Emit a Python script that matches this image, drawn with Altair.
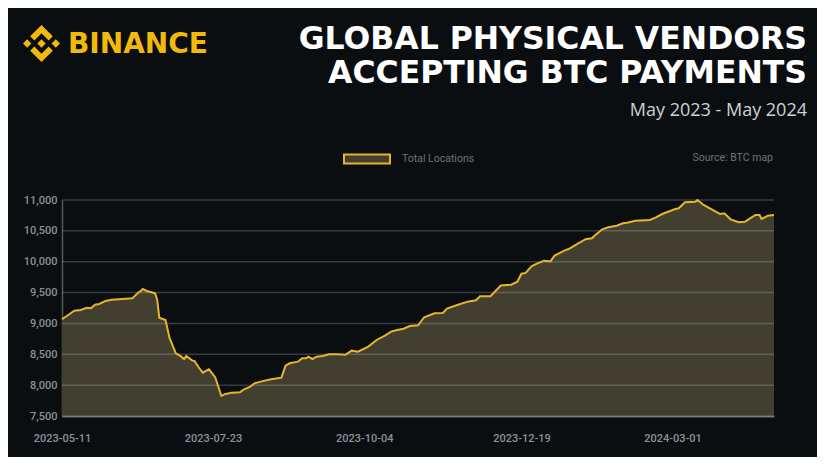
import altair as alt
import pandas as pd

# ---- data ----
dates = [
    "2023-05-11", "2023-05-17", "2023-05-20", "2023-05-23", "2023-05-25", "2023-05-27",
    "2023-05-29", "2023-06-01", "2023-06-04", "2023-06-14", "2023-06-17", "2023-06-18",
    "2023-06-19", "2023-06-21", "2023-06-25", "2023-06-26", "2023-06-27", "2023-06-30",
    "2023-07-02", "2023-07-05", "2023-07-07", "2023-07-09", "2023-07-10", "2023-07-13",
    "2023-07-14", "2023-07-16", "2023-07-18", "2023-07-21", "2023-07-24", "2023-07-27",
    "2023-07-29", "2023-08-01", "2023-08-05", "2023-08-07", "2023-08-10", "2023-08-12",
    "2023-08-15", "2023-08-20", "2023-08-25", "2023-08-27", "2023-08-29", "2023-09-02",
    "2023-09-04", "2023-09-06", "2023-09-07", "2023-09-09", "2023-09-11", "2023-09-14",
    "2023-09-17", "2023-09-21", "2023-09-25", "2023-09-28", "2023-10-01", "2023-10-06",
    "2023-10-10", "2023-10-14", "2023-10-17", "2023-10-20", "2023-10-23", "2023-10-26",
    "2023-10-30", "2023-11-02", "2023-11-07", "2023-11-11", "2023-11-13", "2023-11-18",
    "2023-11-23", "2023-11-27", "2023-11-29", "2023-12-04", "2023-12-09", "2023-12-14",
    "2023-12-17", "2023-12-19", "2023-12-21", "2023-12-24", "2023-12-27", "2023-12-30",
    "2024-01-02", "2024-01-04", "2024-01-09", "2024-01-11", "2024-01-15", "2024-01-19",
    "2024-01-22", "2024-01-24", "2024-01-27", "2024-01-30", "2024-02-03", "2024-02-06",
    "2024-02-08", "2024-02-12", "2024-02-19", "2024-02-22", "2024-02-25", "2024-03-02",
    "2024-03-04", "2024-03-07", "2024-03-12", "2024-03-13", "2024-03-16", "2024-03-21",
    "2024-03-24", "2024-03-26", "2024-03-29", "2024-04-02", "2024-04-05", "2024-04-10",
    "2024-04-12", "2024-04-13", "2024-04-16", "2024-04-19",
]
locations = [
    9067, 9207, 9218, 9255, 9245, 9304,
    9315, 9364, 9385, 9407, 9505, 9521,
    9558, 9526, 9488, 9380, 9093, 9056,
    8760, 8516, 8478, 8424, 8473, 8397,
    8392, 8290, 8202, 8257, 8128, 7825,
    7857, 7878, 7885, 7933, 7976, 8030,
    8057, 8095, 8121, 8316, 8354, 8380,
    8435, 8435, 8462, 8424, 8462, 8473,
    8500, 8500, 8494, 8559, 8543, 8624,
    8732, 8802, 8867, 8894, 8915, 8959,
    8970, 9100, 9164, 9170, 9240, 9299,
    9353, 9375, 9440, 9442, 9615, 9628,
    9677, 9805, 9818, 9930, 9977, 10017,
    10005, 10100, 10185, 10209, 10290, 10365,
    10379, 10440, 10525, 10557, 10584, 10622,
    10633, 10665, 10676, 10719, 10773, 10849,
    10865, 10962, 10973, 11000, 10919, 10827,
    10773, 10784, 10687, 10639, 10649, 10757,
    10757, 10692, 10746, 10757,
]
series_name = "Total Locations"
x_tick_dates = [(2023, 5, 11), (2023, 7, 23), (2023, 10, 4), (2023, 12, 19), (2024, 3, 1)]
x_domain = [(2023, 5, 11), (2024, 4, 19)]
y_ticks = [7500, 8000, 8500, 9000, 9500, 10000, 10500, 11000]
title_lines = ["GLOBAL PHYSICAL VENDORS", "ACCEPTING BTC PAYMENTS"]
subtitle_text = "May 2023 - May 2024"
brand_text = ["BINANCE"]
source_text = ["Source: BTC map"]

# ---- styling ----
BG = "#0b0e11"
YELLOW = "#e8b52a"
BRAND = "#f0b90b"
AREA = "#423e30"
AXIS_LABEL = "#8d9199"
DIM = "#6d7178"

df = pd.DataFrame({"date": dates, "locations": locations, "series": series_name})
grid_df = pd.DataFrame({"tick": y_ticks})


def dt(t):
    return alt.DateTime(year=t[0], month=t[1], date=t[2], utc=True)


x_scale = alt.Scale(type="utc", domain=[dt(t) for t in x_domain])
y_scale = alt.Scale(domain=[7500, 11000], nice=False, zero=False)

x_axis = alt.Axis(
    values=[dt(t) for t in x_tick_dates],
    labelExpr="utcFormat(datum.value, '%Y-%m-%d')",
    grid=False,
    ticks=False,
    domainColor="#6a6c70",
    domainWidth=2,
    labelColor=AXIS_LABEL,
    labelFont="Roboto",
    labelFontSize=11,
    labelFontWeight=500,
    labelPadding=16,
    labelFlush=False,
)
y_axis = alt.Axis(
    values=y_ticks,
    format=",.0f",
    grid=False,
    ticks=False,
    domainColor="#55585e",
    domainWidth=1.5,
    labelColor=AXIS_LABEL,
    labelFont="Roboto",
    labelFontSize=11,
    labelFontWeight=500,
    labelPadding=5,
)

x_enc = alt.X("date:T", scale=x_scale, axis=x_axis, title=None)
y_enc = alt.Y("locations:Q", scale=y_scale, axis=y_axis, title=None)

base = alt.Chart(df)

area = base.mark_area(clip=True).encode(
    x=x_enc,
    y=y_enc,
    fill=alt.Fill(
        "series:N",
        scale=alt.Scale(range=[AREA]),
        legend=alt.Legend(
            title=None,
            orient="none",
            legendX=281,
            legendY=-65,
            symbolType="M-1,-0.2L1,-0.2L1,0.2L-1,0.2Z",
            symbolSize=2116,
            symbolStrokeColor=YELLOW,
            symbolStrokeWidth=2,
            symbolOpacity=1,
            labelColor=DIM,
            labelFont="Roboto",
            labelFontSize=10.5,
            labelOffset=11,
            padding=0,
        ),
    ),
)

grid = (
    alt.Chart(grid_df)
    .mark_rule(color="#c8ccd6", opacity=0.24, strokeWidth=1.5)
    .encode(y=alt.Y("tick:Q", scale=y_scale, axis=y_axis, title=None))
)

line = base.mark_line(color=YELLOW, strokeWidth=2).encode(x=x_enc, y=y_enc)

brand_logo = (
    alt.Chart(pd.DataFrame({"t": brand_text}))
    .mark_point(
        shape=(
            "M0,-1L0.613,-0.387L0.387,-0.161L0,-0.548L-0.387,-0.161L-0.613,-0.387Z"
            "M0,1L0.613,0.387L0.387,0.161L0,0.548L-0.387,0.161L-0.613,0.387Z"
            "M0.772,-0.226L1,0L0.774,0.226L0.547,0Z"
            "M0,-0.226L0.226,0L0,0.226L-0.226,0Z"
            "M-0.772,-0.226L-0.547,0L-0.772,0.226L-1,0Z"
        ),
        filled=True,
        color=BRAND,
        opacity=1,
        size=1369,
    )
    .encode(x=alt.value(-20.5), y=alt.value(-156.5))
)

brand_word = (
    alt.Chart(pd.DataFrame({"t": brand_text}))
    .mark_text(
        font="DejaVu Sans",
        fontWeight="bold",
        fontSize=28,
        color=BRAND,
        align="left",
        baseline="alphabetic",
    )
    .encode(text="t:N", x=alt.value(6), y=alt.value(-147.5))
)

source = (
    alt.Chart(pd.DataFrame({"t": source_text}))
    .mark_text(
        font="Roboto",
        fontSize=10.5,
        color=DIM,
        align="right",
        baseline="middle",
    )
    .encode(text="t:N", x=alt.value(711), y=alt.value(-42))
)

chart = (
    alt.layer(area, grid, line, brand_logo, brand_word, source)
    .properties(
        width=712,
        height=216,
        background=BG,
        padding={"left": 54, "top": 192, "right": 43, "bottom": 41},
        autosize=alt.AutoSizeParams(type="none"),
        title=alt.TitleParams(
            text=title_lines,
            subtitle=subtitle_text,
            anchor="end",
            frame="group",
            orient="top",
            font="DejaVu Sans",
            fontSize=31.5,
            fontWeight="bold",
            color="#ffffff",
            lineHeight=34,
            subtitleFont="Open Sans",
            subtitleFontSize=18,
            subtitleColor="#cfd1d4",
            subtitlePadding=13,
            dx=33,
            offset=-95,
        ),
    )
    .configure_view(stroke=None)
)

chart.save("out.html", embed_options={"renderer": "svg", "actions": False})
